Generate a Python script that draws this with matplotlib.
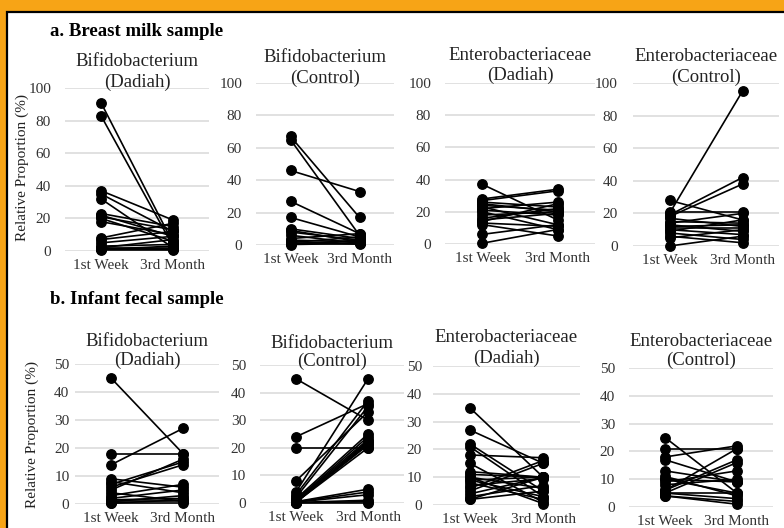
import numpy as np
import matplotlib
matplotlib.use("Agg")
import matplotlib.pyplot as plt
from matplotlib.patches import Rectangle

plt.rcParams['font.family'] = ['Liberation Serif', 'DejaVu Serif']

categories = ["1st Week", "3rd Month"]

# a. breast milk (paired values: 1st week -> 3rd month)
milk_bif_dad_w1 = [91, 83, 37, 35, 32, 23, 22, 21, 20, 18, 8, 7, 5, 3, 2, 2, 1, 1, 0.5, 1.5]
milk_bif_dad_m3 = [5, 3, 19, 12, 2, 15, 9, 13, 6, 10, 17, 12, 9, 4, 7, 2, 1, 3, 0.5, 1]
milk_bif_con_w1 = [67, 65, 46, 27, 17, 10, 9, 8, 6, 4, 3, 2, 1, 0.5, 1.5, 0.3]
milk_bif_con_m3 = [17, 6, 33, 7, 5, 4, 2, 3, 1, 7, 2, 1, 0.5, 3, 5, 1]
milk_ent_dad_w1 = [37, 28, 27, 26, 25, 24, 23, 22, 21, 20, 18, 16, 15, 14, 13, 12, 6, 0.5]
milk_ent_dad_m3 = [15, 34, 33, 23, 20, 21, 12, 26, 18, 9, 20, 22, 19, 25, 11, 5, 12, 9]
milk_ent_con_w1 = [28, 20, 19, 18, 21, 17, 15, 13, 12, 11, 10, 9, 8, 6, 5, 0, 14]
milk_ent_con_m3 = [16, 95, 42, 38, 21, 12, 14, 9, 13, 11, 7, 16, 4, 2, 10, 6, 20]

# b. infant feces
fec_bif_dad_w1 = [45, 18, 14, 9, 8, 7, 6, 5, 4, 3, 2, 1.5, 1, 0.8, 0.5, 0.3]
fec_bif_dad_m3 = [18, 18, 27, 6, 4, 15, 14, 16, 1, 7, 5, 2, 1, 3, 0.5, 1.5]
fec_bif_con_w1 = [45, 24, 20, 8, 4, 3, 2, 1.5, 1, 0.8, 0.5, 0.4, 0.3, 0.2, 0.1, 0.5, 0.4, 0.3, 0.2, 0.1, 0]
fec_bif_con_m3 = [30, 36, 20, 33, 45, 37, 35, 25, 24, 23, 22, 21, 20, 21.5, 22.5, 5, 4, 3, 1, 0.5, 0]
fec_ent_dad_w1 = [35, 27, 22, 21, 18, 15, 12, 11, 10, 9, 8, 7, 6, 5, 4, 3, 2, 2, 10, 9]
fec_ent_dad_m3 = [10, 15, 5, 3, 17, 1, 10, 10, 6, 10, 2, 9.5, 16, 15, 10, 7, 10, 5, 0.5, 3]
fec_ent_con_w1 = [25, 21, 18, 17, 13, 11, 10, 9, 6, 6, 5, 5, 4, 4, 10, 5, 8]
fec_ent_con_m3 = [5, 21, 22, 9, 9, 4, 9, 13, 17, 21, 16, 5, 2, 1, 5, 3, 10]

W, H = 784, 528
fig = plt.figure(figsize=(W / 100, H / 100), dpi=100)
fig.patch.set_facecolor('#F7A416')
fig.patches.append(Rectangle((7 / W, -0.1), 1.2, 1.1 - 12 / H, transform=fig.transFigure,
                             facecolor='white', edgecolor='black', lw=1.6, zorder=-10))


def panel(x0, x1, ytop, ybot, ymax, step, w1, m3, t1, t2, off1, off2, ypad):
    ax = fig.add_axes([x0 / W, 1 - ybot / H, (x1 - x0) / W, (ybot - ytop) / H])
    ax.set_facecolor('none')
    for a, b in zip(w1, m3):
        ax.plot([0, 1], [a, b], '-o', color='black', lw=1.2, ms=6.8, clip_on=False, zorder=3)
    ax.set_xlim(-0.5, 1.5)
    ax.set_ylim(0, ymax)
    ax.set_yticks(np.arange(0, ymax + 1, step))
    ax.set_xticks([0, 1])
    ax.set_xticklabels(categories)
    ax.grid(axis='y', color='#D9D9D9', lw=1.1, zorder=0)
    ax.set_axisbelow(True)
    for s in ax.spines.values():
        s.set_visible(False)
    ax.tick_params(axis='both', length=0, labelsize=11, colors='#333333')
    ax.tick_params(axis='y', pad=ypad)
    ax.tick_params(axis='x', pad=6)
    ax.annotate(t1, (0.5, 1), xycoords='axes fraction', xytext=(0, off1), textcoords='offset pixels',
                ha='center', va='center', fontsize=13.5, color='#222222')
    ax.annotate(t2, (0.5, 1), xycoords='axes fraction', xytext=(0, off2), textcoords='offset pixels',
                ha='center', va='center', fontsize=13.5, color='#222222')
    return ax


panel(65, 209, 88, 251, 100, 20, milk_bif_dad_w1, milk_bif_dad_m3, "Bifidobacterium", "(Dadiah)", 26, 6, 10)
panel(256, 394, 83, 245, 100, 20, milk_bif_con_w1, milk_bif_con_m3, "Bifidobacterium", "(Control)", 25, 5, 10)
panel(445, 595, 83, 244, 100, 20, milk_ent_dad_w1, milk_ent_dad_m3, "Enterobacteriaceae", "(Dadiah)", 28, 8, 10)
panel(633, 779, 83, 246, 100, 20, milk_ent_con_w1, milk_ent_con_m3, "Enterobacteriaceae", "(Control)", 26, 6, 11)

panel(75, 219, 364, 504, 50, 10, fec_bif_dad_w1, fec_bif_dad_m3, "Bifidobacterium", "(Dadiah)", 22, 4, 4)
panel(260, 404, 365, 503, 50, 10, fec_bif_con_w1, fec_bif_con_m3, "Bifidobacterium", "(Control)", 22, 4, 10)
panel(433, 580, 366, 505, 50, 10, fec_ent_dad_w1, fec_ent_dad_m3, "Enterobacteriaceae", "(Dadiah)", 28, 8, 8)
panel(629, 773, 368, 507, 50, 10, fec_ent_con_w1, fec_ent_con_m3, "Enterobacteriaceae", "(Control)", 27, 8, 10)

fig.text(22 / W, 1 - 168 / H, "Relative Proportion (%)", rotation=90, ha='center', va='center',
         fontsize=11, color='#222222')
fig.text(32 / W, 1 - 435 / H, "Relative Proportion (%)", rotation=90, ha='center', va='center',
         fontsize=11, color='#222222')
fig.text(50 / W, 1 - 32 / H, "a. Breast milk sample", ha='left', va='center', fontsize=13.5,
         fontweight='bold', color='black')
fig.text(50 / W, 1 - 300 / H, "b. Infant fecal sample", ha='left', va='center', fontsize=13.5,
         fontweight='bold', color='black')

fig.savefig("out.png", dpi=100, facecolor=fig.get_facecolor())
